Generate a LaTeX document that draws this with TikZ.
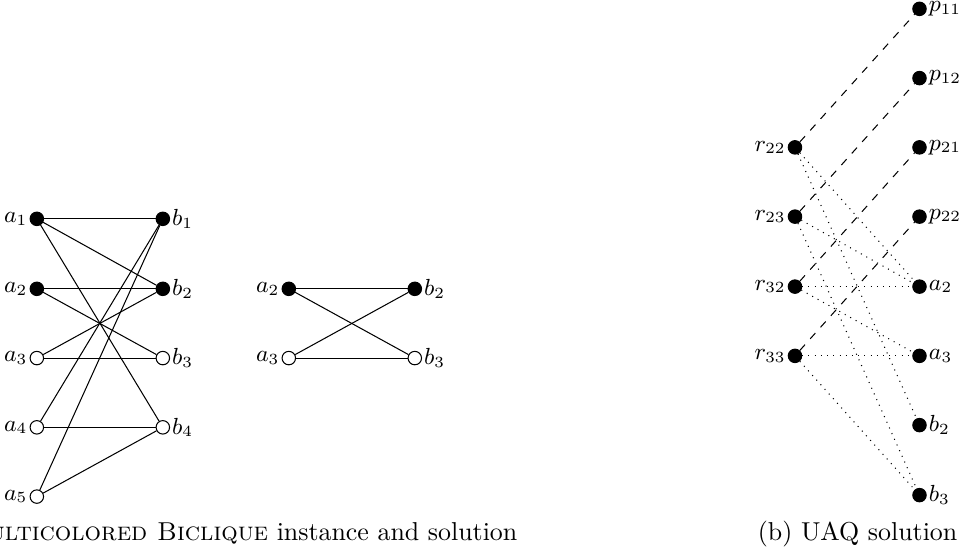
\documentclass[tikz,border=0pt]{standalone}
\usepackage{amsmath}
\usepackage{tikz}
\tikzset{
  gr v/.style={circle, draw=black, inner sep=0pt, minimum size=5.2pt},
  gr on/.style={gr v, fill=black},
  gr off/.style={gr v, fill=white},
  gr lbl/.style={inner xsep=0.6pt, inner ysep=0pt, font=\small},
  gr edge/.style={black},
  gr map/.style={black, dashed},
  gr inc/.style={black, dotted},
  gr cap/.style={font=\normalsize, anchor=base, inner sep=0pt},
}
\begin{document}
\begin{tikzpicture}[x=1cm, y=1cm,
  lab l/.style={label={[gr lbl]left:$#1$}},
  lab r/.style={label={[gr lbl]right:$#1$}}]
  \path[use as bounding box, clip] (0,0) rectangle (13.03,-7.53);
  % (a) the instance
  \node[gr on,  lab l=a_1] (a1) at (0.50,-2.97) {};
  \node[gr on,  lab l=a_2] (a2) at (0.50,-3.92) {};
  \node[gr off, lab l=a_3] (a3) at (0.50,-4.86) {};
  \node[gr off, lab l=a_4] (a4) at (0.50,-5.80) {};
  \node[gr off, lab l=a_5] (a5) at (0.50,-6.74) {};
  \node[gr on,  lab r=b_1] (b1) at (2.21,-2.97) {};
  \node[gr on,  lab r=b_2] (b2) at (2.21,-3.92) {};
  \node[gr off, lab r=b_3] (b3) at (2.21,-4.86) {};
  \node[gr off, lab r=b_4] (b4) at (2.21,-5.80) {};
  \foreach \u/\v in {a1/b1, a1/b2, a1/b4, a2/b2, a2/b3, a3/b2, a3/b3, a4/b1, a4/b4, a5/b1, a5/b4}
    \draw[gr edge] (\u) -- (\v);
  % (a) the solution
  \node[gr on,  lab l=a_2] (sa2) at (3.92,-3.92) {};
  \node[gr off, lab l=a_3] (sa3) at (3.92,-4.86) {};
  \node[gr on,  lab r=b_2] (sb2) at (5.63,-3.92) {};
  \node[gr off, lab r=b_3] (sb3) at (5.63,-4.86) {};
  \foreach \u/\v in {sa2/sb2, sa2/sb3, sa3/sb2, sa3/sb3}
    \draw[gr edge] (\u) -- (\v);
  \node[gr cap] (capa) at (2.98,-7.33) {(a) \textsc{Multicolored Biclique} instance and solution};
  % (b) UAQ solution
  \node[gr on, lab l=r_{22}] (r22) at (10.79,-2.00) {};
  \node[gr on, lab l=r_{23}] (r23) at (10.79,-2.94) {};
  \node[gr on, lab l=r_{32}] (r32) at (10.79,-3.89) {};
  \node[gr on, lab l=r_{33}] (r33) at (10.79,-4.83) {};
  \node[gr on, lab r=p_{11}] (p11) at (12.48,-0.12) {};
  \node[gr on, lab r=p_{12}] (p12) at (12.48,-1.06) {};
  \node[gr on, lab r=p_{21}] (p21) at (12.48,-2.00) {};
  \node[gr on, lab r=p_{22}] (p22) at (12.48,-2.94) {};
  \node[gr on, lab r=a_2] (qa2) at (12.48,-3.89) {};
  \node[gr on, lab r=a_3] (qa3) at (12.48,-4.83) {};
  \node[gr on, lab r=b_2] (qb2) at (12.48,-5.77) {};
  \node[gr on, lab r=b_3] (qb3) at (12.48,-6.72) {};
  \foreach \u/\v in {r22/p11, r23/p12, r32/p21, r33/p22}
    \draw[gr map] (\u) -- (\v);
  \foreach \u/\v in {r22/qa2, r22/qb2, r23/qa2, r23/qb3, r32/qa2, r32/qa3, r33/qa3, r33/qb3}
    \draw[gr inc] (\u) -- (\v);
  \node[gr cap] (capb) at (11.64,-7.33) {(b) UAQ solution};
\end{tikzpicture}
\end{document}
